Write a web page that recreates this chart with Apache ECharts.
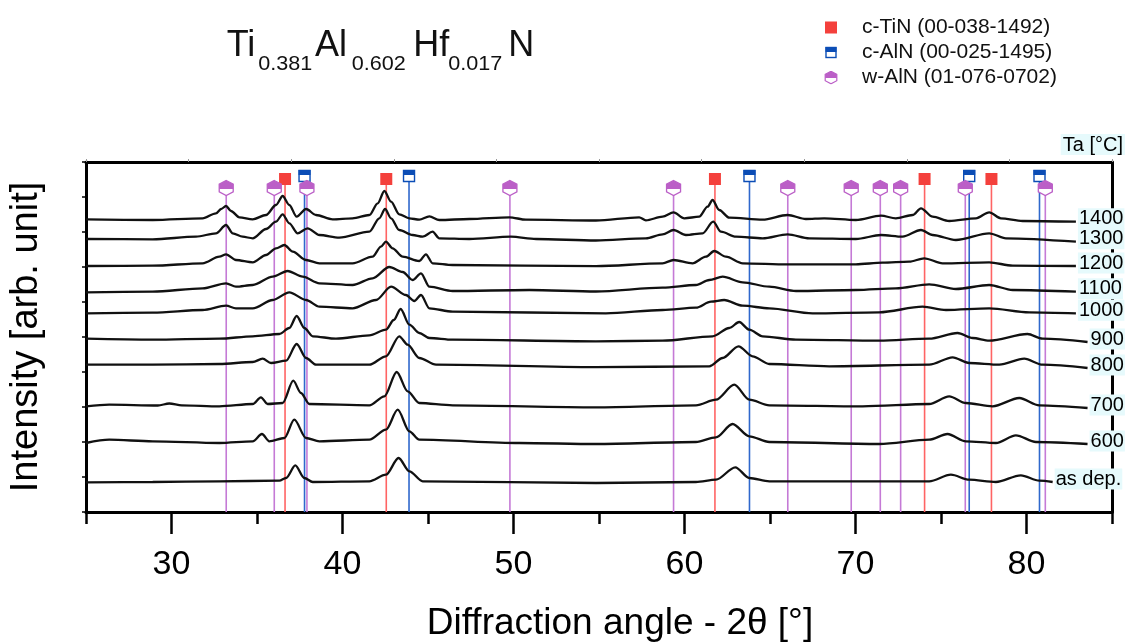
<!DOCTYPE html>
<html><head><meta charset="utf-8">
<script src="https://cdn.jsdelivr.net/npm/echarts@6.0.0/dist/echarts.min.js"></script>
<style>html,body{margin:0;padding:0;background:#fff}#c{width:1128px;height:644px}</style>
</head><body><div id="c"></div>
<script>
// ---------- DATA (y = stacked intensity in plot units) ----------
const traceNames = ['1400', '1300', '1200', '1100', '1000', '900', '800', '700', '600', 'as dep.'];

const t1400 = [[25.0,292.7],[28.9,292],[31.82,293.7],[32.6,298.7],[32.9,303],[33.19,306],[33.48,301],[33.97,294.7],[34.75,292.7],[35.53,297],[36.11,307],[36.5,316],[36.89,307],[37.32,295.3],[37.87,303],[38.45,297],[39.42,292.7],[40.59,293.7],[41.57,297],[42.06,308.7],[42.45,321],[42.84,310.3],[43.32,297.7],[43.91,293.7],[44.49,292.3],[45.08,295.7],[45.66,292],[47.42,293],[49.76,294.7],[50.73,292.3],[54.82,291.5],[57.35,294.7],[57.74,291.7],[58.72,295.3],[59.36,299.7],[59.99,293.7],[60.86,295.3],[61.35,305.3],[61.64,312],[62.03,302],[62.62,294.3],[64.57,292.3],[66.03,297],[67.1,293],[68.17,293.7],[70.02,292],[71.49,296.3],[72.36,293.7],[73.34,297],[73.83,303.7],[74.51,295.3],[75.48,291],[77.04,293.7],[77.82,299.7],[78.5,293.7],[79.77,291],[82.89,290.3]];
const t1300 = [[25.0,273],[28.9,272.7],[31.43,275.3],[32.6,278.7],[33.19,287],[33.58,278.7],[34.16,275.3],[34.75,273.7],[35.53,283],[36.11,290.3],[36.5,297.7],[36.89,288.7],[37.38,278.7],[37.96,283.7],[38.65,277],[39.81,274.3],[41.57,280.3],[42.15,293.7],[42.49,303],[42.84,293.7],[43.32,282],[44.1,277],[44.69,275.3],[45.27,280.3],[45.66,273.7],[47.42,273],[49.85,275.3],[51.32,273],[54.82,271.5],[57.74,273.7],[58.72,277.7],[59.36,282],[60.08,277],[61.06,278.7],[61.68,290.3],[62.13,280.3],[63.01,275.3],[64.57,273.7],[66.03,277.7],[67.3,273.7],[70.02,273],[71.49,277],[72.75,275.3],[73.83,282],[74.51,277],[75.87,272],[77.82,278.7],[78.8,273.7],[82.89,270.3]];
const t1200 = [[25.0,246],[28.9,246.3],[31.82,248.7],[32.8,255.3],[33.19,257.7],[33.77,252],[34.75,249.7],[35.53,257],[36.11,263.7],[36.6,267],[37.09,260.3],[37.87,252],[38.65,248.7],[40.59,248.7],[41.76,255.3],[42.25,265.3],[42.54,270.3],[42.93,263.7],[43.52,255.3],[44.49,251],[44.88,257.7],[45.27,248.7],[46.44,247],[54.82,245.8],[58.72,248.7],[59.36,252],[60.47,248.7],[61.25,255.3],[61.74,261],[62.42,255.3],[63.4,248.7],[66.03,247.7],[70.02,247.7],[71.58,249.3],[73.14,250.3],[74.02,253.7],[75.09,248.7],[77.82,249.7],[79.19,246.3],[82.89,246]];
const t1100 = [[25.0,219.7],[28.9,220.3],[31.82,223.7],[33.19,228.7],[33.77,225.3],[34.75,227],[35.92,235.3],[36.79,241],[37.67,235.3],[38.65,228.7],[40.59,227],[41.76,233.7],[42.74,245],[43.52,240],[44.1,232],[44.59,238.7],[45.08,225.3],[46.44,221],[50.93,222],[54.82,220.5],[58.72,224.3],[60.67,227],[61.45,232],[62.23,235.3],[63.4,229.7],[64.96,225.3],[66.52,221],[70.02,222],[72.36,223.7],[74.31,227.7],[75.87,223],[77.82,227],[79.19,222],[82.89,220.3]];
const t1000 = [[25.0,198.7],[28.9,199.3],[31.82,202],[33.19,206.3],[33.77,203.7],[34.75,203.7],[35.92,212],[36.89,219.7],[37.87,212],[38.65,205.3],[40.59,203.7],[41.96,212],[42.84,225.3],[43.71,217],[44.2,211],[44.59,217],[45.08,203.7],[46.44,200.3],[55.4,198.7],[58.72,202],[60.67,204.3],[61.55,210.3],[62.32,212],[63.4,206.3],[64.96,203.7],[67.49,198.7],[71.39,199.7],[73.92,205.3],[75.29,202],[77.82,203.7],[80.16,199.7],[82.89,198.7]];
const t900 = [[25.0,173.3],[28.9,172.3],[32.8,173.3],[34.75,175.7],[36.31,178],[36.89,184],[37.32,196],[37.77,184],[38.26,175.7],[39.62,173.3],[41.57,176.7],[42.54,182.3],[43.0,192],[43.4,203],[43.91,187.3],[44.49,179],[45.08,174],[46.44,172.3],[54.82,170.7],[58.72,171.3],[61.64,175.7],[62.62,184],[63.2,190],[63.79,182.3],[64.57,175.7],[66.52,172.3],[71.39,171.3],[74.31,173.3],[75.97,179],[76.85,174],[77.82,171.3],[80.06,178],[80.94,173.3],[83.57,170]];
const t800 = [[25.0,147.3],[28.9,147.3],[32.8,148],[34.75,150],[35.33,153.3],[35.82,149],[36.7,151.3],[37.32,168],[37.87,154],[38.45,147.3],[41.57,147.3],[42.54,155.7],[43.32,175.7],[43.81,167.3],[44.49,154],[45.47,147.3],[54.82,144.8],[61.45,145.7],[62.23,154],[63.16,165.7],[63.98,155.7],[64.96,148],[68.46,145.7],[74.31,147.3],[75.68,154.7],[76.65,149],[78.41,147.3],[79.87,153.3],[80.94,147.3],[83.57,144]];
const t700 = [[25.0,105.7],[26.36,107.3],[29.2,106.5],[29.87,108.5],[30.6,106.7],[32.8,105.7],[34.75,108],[35.23,114.7],[35.62,108],[36.5,109],[37.12,131.3],[37.57,119],[38.06,108],[41.57,106.7],[42.45,115.7],[43.17,140],[43.81,120.7],[44.49,109],[46.44,106.7],[54.82,104.7],[60.67,106.7],[61.84,112.3],[62.91,127.3],[63.79,112.3],[64.96,106.7],[70.41,105.7],[74.31,108],[75.48,115.7],[76.46,109],[78.02,105.7],[79.58,114],[80.75,106.7],[83.57,104]];
const t600 = [[25.0,69],[26.36,72.3],[28.9,70.7],[32.8,69],[34.75,70.7],[35.29,78],[35.72,70.7],[36.6,74],[37.18,92.3],[37.87,74],[38.65,70.7],[41.57,72.3],[42.54,82.3],[43.23,102.3],[43.91,80.7],[44.49,72.3],[50.34,69],[54.82,68],[60.67,70],[61.84,74.7],[62.81,88],[63.79,75.7],[64.96,70],[71.39,68],[74.31,72.3],[75.38,78],[76.46,70.7],[78.21,69],[79.38,76.7],[80.55,70],[83.57,68]];
const tAsDep = [[25.0,29.7],[28.9,30],[32.8,30.7],[36.31,31.3],[36.7,34],[37.24,46.7],[37.77,34],[38.26,30],[41.57,30.7],[42.54,37.3],[43.28,54],[43.91,40.7],[44.69,30.7],[54.82,29],[60.67,30],[61.84,32.3],[62.97,44.7],[63.79,34],[64.96,30.7],[74.31,30.7],[75.58,37.3],[76.65,32.3],[78.21,30],[79.67,36.7],[80.75,31.3],[81.53,30]];

// reference pattern positions (2θ)
const phaseNames = ['c-TiN (00-038-1492)', 'c-AlN (00-025-1495)', 'w-AlN (01-076-0702)'];
const tinPeaks = [36.64, 42.56, 61.78, 74.04, 77.95];
const alnCubicPeaks = [37.78, 43.89, 63.8, 76.65, 80.76];
const alnWurtzitePeaks = [33.2, 36.01, 37.92, 49.79, 59.36, 66.04, 69.75, 71.45, 72.64, 76.42, 81.1];

// axis ticks / labels
const xLabelValues = [30, 40, 50, 60, 70, 80];
const xMinorTickValues = [25, 35, 45, 55, 65, 75, 85];
const xAxisTitle = 'Diffraction angle - 2θ [°]';
const yAxisTitle = 'Intensity [arb. unit]';

// title pieces
const titleMain = ['Ti', 'Al', 'Hf', 'N'];
const titleSubs = ['0.381', '0.602', '0.017'];

// ---------- CHART ----------
const traces = [t1400, t1300, t1200, t1100, t1000, t900, t800, t700, t600, tAsDep];
const FONT = 'Liberation Sans, Arial, sans-serif';
const RED = '#f4403c', RED_LINE = '#ff6464';
const BLUE = '#0b4db6', BLUE_LINE = '#2f68cc';
const PURPLE = '#bb5fc7', PURPLE_LINE = '#c57ad6';

function svgUri(s) { return 'image://data:image/svg+xml;charset=utf-8,' + encodeURIComponent(s); }
const iconTin = svgUri("<svg xmlns='http://www.w3.org/2000/svg' width='14' height='14' viewBox='0 0 14 14'><rect x='1' y='1' width='12' height='12' fill='" + RED + "'/></svg>");
const iconAlnC = svgUri("<svg xmlns='http://www.w3.org/2000/svg' width='14' height='14' viewBox='0 0 14 14'><rect x='2' y='2' width='10' height='10' fill='#fff' stroke='" + BLUE + "' stroke-width='1.4'/><rect x='1.5' y='1.5' width='11' height='5' fill='" + BLUE + "'/></svg>");
const iconAlnW = svgUri("<svg xmlns='http://www.w3.org/2000/svg' width='14' height='14' viewBox='0 0 14 14'><polygon points='7,0.8 12.8,3.8 12.8,10.2 7,13.2 1.2,10.2 1.2,3.8' fill='#fff' stroke='" + PURPLE + "' stroke-width='1.2'/><polygon points='7,0.8 12.8,3.8 12.8,7.6 1.2,7.6 1.2,3.8' fill='" + PURPLE + "'/></svg>");

function markerSeries(name, peaks, level, kind, lineColor) {
  return {
    name: name, type: 'custom', z: 2, clip: false,
    data: peaks.map(v => [v, level]),
    encode: { x: 0, y: 1 },
    renderItem: function (params, api) {
      const top = api.coord([api.value(0), api.value(1)]);
      const bot = api.coord([api.value(0), 0]);
      const cx = top[0], cy = top[1];
      const children = [{ type: 'line', shape: { x1: cx, y1: cy, x2: bot[0], y2: bot[1] }, style: { stroke: lineColor, lineWidth: 1.6 } }];
      if (kind === 'tin') {
        children.push({ type: 'rect', shape: { x: cx - 6, y: cy - 6, width: 12, height: 12 }, style: { fill: RED } });
      } else if (kind === 'alnc') {
        children.push({ type: 'rect', shape: { x: cx - 5.5, y: cy - 5.5, width: 11, height: 11 }, style: { fill: '#fff', stroke: BLUE, lineWidth: 1.4 } });
        children.push({ type: 'rect', shape: { x: cx - 6, y: cy - 6, width: 12, height: 5 }, style: { fill: BLUE } });
      } else {
        const w = 7, h = 7.5;
        children.push({ type: 'polygon', shape: { points: [[cx, cy - h], [cx + w, cy - h / 2], [cx + w, cy + h / 2], [cx, cy + h], [cx - w, cy + h / 2], [cx - w, cy - h / 2]] }, style: { fill: '#fff', stroke: PURPLE, lineWidth: 1.3 } });
        children.push({ type: 'polygon', shape: { points: [[cx, cy - h], [cx + w, cy - h / 2], [cx + w, cy + 1], [cx - w, cy + 1], [cx - w, cy - h / 2]] }, style: { fill: PURPLE } });
      }
      return { type: 'group', children: children };
    }
  };
}

const lineSeries = traces.map((d, i) => ({
  name: traceNames[i], type: 'line', z: 3, data: d,
  showSymbol: false, smooth: 0.3, smoothMonotone: 'x',
  lineStyle: { color: '#111', width: 2.3 },
  itemStyle: { color: '#111' },
  silent: true,
  endLabel: {
    show: true, formatter: traceNames[i], distance: 2, offset: [0, -3],
    fontSize: 20, fontFamily: FONT, color: '#000',
    backgroundColor: '#e6fafc', padding: [1, 1, 0, 1]
  }
}));

// title graphics
const titleLefts = [226.7, 315, 413.3, 508.3];
const subLefts = [258.3, 351.7, 448.3];
const graphics = [];
titleMain.forEach((t, i) => graphics.push({ type: 'text', x: titleLefts[i], y: 46.5, style: { text: t, font: '36px ' + FONT, fill: '#111', textAlign: 'left', textVerticalAlign: 'middle' } }));
titleSubs.forEach((t, i) => graphics.push({ type: 'text', x: subLefts[i], y: 64.5, scaleX: 1.08, style: { text: t, font: '20px ' + FONT, fill: '#111', textAlign: 'left', textVerticalAlign: 'middle' } }));
graphics.push({ type: 'text', right: 3, top: 134, z: 10, style: { text: 'Ta [°C]', font: '20px ' + FONT, fill: '#000', backgroundColor: '#e6fafc', padding: [1, 2, 0, 2] } });
graphics.push({ type: 'text', x: 620, y: 624, style: { text: xAxisTitle, font: '37px ' + FONT, fill: '#000', textAlign: 'center', textVerticalAlign: 'middle' } });

const option = {
  animation: false,
  backgroundColor: '#fff',
  textStyle: { fontFamily: FONT },
  graphic: graphics,
  legend: {
    orient: 'vertical', left: 800, top: 12, padding: 5,
    itemWidth: 52, itemHeight: 14, itemGap: 4, selectedMode: false,
    textStyle: { fontSize: 21, color: '#111', fontFamily: FONT },
    data: [{ name: phaseNames[0], icon: iconTin }, { name: phaseNames[1], icon: iconAlnC }, { name: phaseNames[2], icon: iconAlnW }]
  },
  grid: { left: 86, right: 16, top: 162, bottom: 132, containLabel: false },
  xAxis: [
    {
      type: 'value', min: 25, max: 85, position: 'bottom',
      axisLine: { show: true, onZero: false, lineStyle: { color: '#000', width: 3 } },
      axisTick: { show: true, customValues: xLabelValues, length: 22, lineStyle: { color: '#000', width: 2.5 } },
      axisLabel: { show: true, customValues: xLabelValues, fontSize: 34, color: '#000', margin: 36, fontFamily: FONT },
      splitLine: { show: false }
    },
    {
      type: 'value', min: 25, max: 85, position: 'bottom',
      axisLine: { show: false },
      axisTick: { show: true, customValues: xMinorTickValues, length: 12, lineStyle: { color: '#000', width: 2.5 } },
      axisLabel: { show: false }, splitLine: { show: false }
    },
    {
      type: 'value', min: 25, max: 85, interval: 6, position: 'top',
      axisLine: { show: true, onZero: false, lineStyle: { color: '#000', width: 3 } },
      axisTick: { show: true, length: 3, lineStyle: { color: '#999', width: 1 } },
      axisLabel: { show: false }, splitLine: { show: false }
    }
  ],
  yAxis: [
    {
      type: 'value', min: 0, max: 350, interval: 35, position: 'left',
      axisLine: { show: true, onZero: false, lineStyle: { color: '#000', width: 3 } },
      axisTick: { show: true, length: 4, lineStyle: { color: '#000', width: 1.5 } },
      axisLabel: { show: false }, splitLine: { show: false },
      name: yAxisTitle, nameLocation: 'middle', nameRotate: 90, nameGap: 40,
      nameTextStyle: { fontSize: 38, color: '#000', fontFamily: FONT }
    },
    {
      type: 'value', min: 0, max: 350, position: 'right',
      axisLine: { show: true, onZero: false, lineStyle: { color: '#000', width: 3 } },
      axisTick: { show: false }, axisLabel: { show: false }, splitLine: { show: false }
    }
  ],
  series: [
    markerSeries(phaseNames[0], tinPeaks, 333, 'tin', RED_LINE),
    markerSeries(phaseNames[1], alnCubicPeaks, 336, 'alnc', BLUE_LINE),
    markerSeries(phaseNames[2], alnWurtzitePeaks, 324, 'alnw', PURPLE_LINE)
  ].concat(lineSeries)
};

const chart = echarts.init(document.getElementById('c'), null, { renderer: 'canvas' });
chart.setOption(option);
</script></body></html>
